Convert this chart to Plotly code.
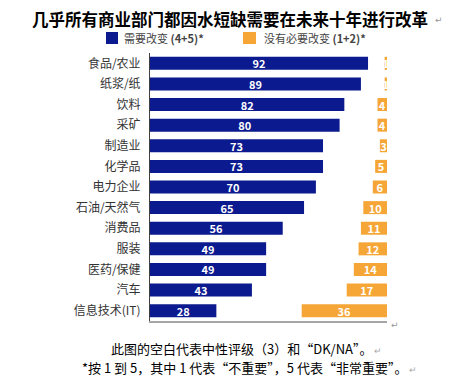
import plotly.graph_objects as go

categories = ["食品/农业", "纸浆/纸", "饮料", "采矿", "制造业", "化学品", "电力企业",
              "石油/天然气", "消费品", "服装", "医药/保健", "汽车", "信息技术(IT)"]
need_change = [92, 89, 82, 80, 73, 73, 70, 65, 56, 49, 49, 43, 28]
no_change = [1, 1, 4, 4, 3, 5, 6, 10, 11, 12, 14, 17, 36]
total_scale = 100

BLUE = "#0b1a8e"
ORANGE = "#f5a636"
FONT = "Noto Sans CJK SC"

# page body has an 8px margin; coordinates below are in window pixels
OFF = 8
WIN_W, WIN_H = 465, 380
W, H = WIN_W - OFF, WIN_H - OFF
PL, PR, PT, PB = 150, 387, 53, 321  # plot area in window pixels
L, R, T, B = PL - OFF, WIN_W - PR, PT - OFF, WIN_H - PB
pw, ph = PR - PL, PB - PT

def px(x):
    return (x - PL) / pw

def py(y):
    return (PB - y) / ph

fig = go.Figure()
fig.add_trace(go.Bar(
    y=categories, x=need_change, orientation="h", marker=dict(color=BLUE, line=dict(width=0)),
    text=[f"<b>{v}</b>" for v in need_change], textposition="inside", insidetextanchor="middle",
    textangle=0, textfont=dict(color="white", size=11, family=FONT), name="需要改变 (4+5)*",
    showlegend=False, hoverinfo="skip"))
fig.add_trace(go.Bar(
    y=categories, x=no_change, base=[total_scale - v for v in no_change], orientation="h",
    marker=dict(color=ORANGE, line=dict(width=0)),
    text=[f"<b>{v}</b>" for v in no_change], textposition="inside", insidetextanchor="middle",
    textangle=0, textfont=dict(color="white", size=11, family=FONT), name="没有必要改变 (1+2)*",
    showlegend=False, hoverinfo="skip"))

fig.update_layout(
    width=W, height=H, margin=dict(l=L, r=R, t=T, b=B),
    paper_bgcolor="white", plot_bgcolor="white",
    barmode="overlay", bargap=0.37,
    uniformtext=dict(minsize=11, mode="show"),
    font=dict(family=FONT, color="#333333"),
    xaxis=dict(range=[0, total_scale], showgrid=False, zeroline=False, showticklabels=False,
               ticks="", showline=True, linecolor="#a6a6a6", linewidth=2, fixedrange=True),
    yaxis=dict(autorange="reversed", showgrid=False, zeroline=False, ticks="",
               showline=True, linecolor="#404040", linewidth=1,
               tickfont=dict(size=12, color="#333333", family=FONT), ticklabelstandoff=6),
)

def note(x, y, text, size, color, family=FONT, xanchor="center"):
    return dict(x=px(x), y=py(y), xref="paper", yref="paper", showarrow=False,
                xanchor=xanchor, yanchor="middle", text=text, borderpad=0,
                font=dict(size=size, color=color, family=family))

annos = [
    note(230, 19, "<b>几乎所有商业部门都因水短缺需要在未来十年进行改革</b>", 16.5, "black"),
    note(434, 20, "↵", 9, "#999999", "DejaVu Sans", "left"),
    note(123, 38, "需要改变 <b>(4+5)*</b>", 11, "#444444", xanchor="left"),
    note(263, 38, "没有必要改变 <b>(1+2)*</b>", 11, "#444444", xanchor="left"),
    note(390, 325, "↵", 9, "#999999", "DejaVu Sans", "left"),
    note(247, 348, "此图的空白代表中性评级（3）和“DK/NA”。<span style='color:#aaaaaa;font-size:9px'> ↵</span>", 13, "black"),
    note(249, 367, "*按 1 到 5，其中 1 代表“不重要”，5 代表“非常重要”。<span style='color:#aaaaaa;font-size:9px'> ↵</span>", 13, "black"),
]
fig.add_shape(type="rect", xref="paper", yref="paper", x0=px(106), x1=px(118), y0=py(44), y1=py(32),
              fillcolor=BLUE, line=dict(width=0))
fig.add_shape(type="rect", xref="paper", yref="paper", x0=px(243), x1=px(256), y0=py(44), y1=py(32),
              fillcolor=ORANGE, line=dict(width=0))
fig.update_layout(annotations=annos)

fig.write_html("out.html")
